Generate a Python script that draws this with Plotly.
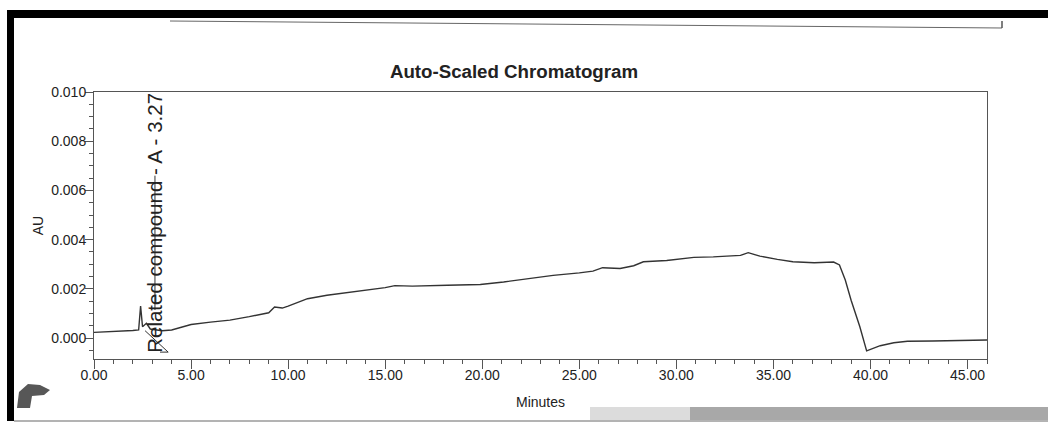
import plotly.graph_objects as go

# Chromatogram trace (retention time in minutes, absorbance in AU)
time_min = [0.0, 1.0, 2.0, 2.3, 2.4, 2.5, 2.6, 2.7, 2.9, 3.5, 4.0, 5.0, 6.0, 7.0, 8.0, 9.0,
            9.3, 9.7, 10.0, 11.0, 12.0, 13.0, 14.0, 15.0, 15.5, 16.4, 18.2, 19.9, 21.1,
            22.45, 23.65, 25.0, 25.7, 26.2, 27.1, 27.8, 28.3, 29.5, 30.9, 31.9, 33.3,
            33.7, 34.3, 35.2, 36.0, 37.1, 38.1, 38.4, 38.7, 39.0, 39.45, 39.8, 40.1,
            40.5, 41.2, 41.9, 43.2, 46.0]
absorbance = [0.00023, 0.00026, 0.00031, 0.00033, 0.00130, 0.00046, 0.00052, 0.00060,
              0.00037, 0.00030, 0.00033, 0.00055, 0.00065, 0.00073, 0.00087, 0.00103,
              0.00126, 0.00122, 0.00130, 0.00160, 0.00174, 0.00184, 0.00192, 0.00205,
              0.00213, 0.00211, 0.00215, 0.00218, 0.00228, 0.00243, 0.00255, 0.00265,
              0.00272, 0.00286, 0.00283, 0.00294, 0.00310, 0.00315, 0.00328, 0.00330,
              0.00336, 0.00347, 0.00333, 0.00320, 0.00310, 0.00306, 0.00309, 0.00297,
              0.00236, 0.00154, 0.00046, -0.00052, -0.00042, -0.00031, -0.00019,
              -0.00013, -0.00012, -0.00008]

# Axis ticks
x_ticks = [0, 5, 10, 15, 20, 25, 30, 35, 40, 45]
y_ticks = [0.000, 0.002, 0.004, 0.006, 0.008, 0.010]

# Peak label
peak_name = "Related compound - A"
peak_rt = 3.27

FONT = "Liberation Sans, Arial, sans-serif"
INK = "#222222"
AXIS = "#555555"
W, H = 1048, 423

fig = go.Figure()
fig.add_trace(go.Scatter(
    x=time_min, y=absorbance, mode="lines",
    line=dict(color="#333333", width=1.4),
    showlegend=False, hoverinfo="x+y",
))

# Peak marker: label stem and baseline drop
fig.add_shape(type="line", xref="x", yref="y", x0=3.14, x1=3.14, y0=0.00114, y1=0.0066,
              line=dict(color="#333333", width=1))
fig.add_shape(type="path", xref="x", yref="y",
              path="M 2.63 0.0003 L 3.82 -0.00057 L 3.4 -0.00057",
              line=dict(color="#333333", width=1))

fig.add_annotation(
    x=peak_rt, y=-0.00066, xref="x", yref="y", xshift=-3,
    text=f"{peak_name} - {peak_rt:.2f}", textangle=-90, showarrow=False,
    xanchor="center", yanchor="bottom",
    font=dict(family=FONT, size=20.5, color=INK),
)

fig.update_layout(
    width=W, height=H,
    margin=dict(l=94, r=61, t=92, b=64),
    paper_bgcolor="white", plot_bgcolor="white",
    font=dict(family=FONT, size=14, color=INK),
    title=dict(text="<b>Auto-Scaled Chromatogram</b>", x=514 / W, xanchor="center",
               y=1 - 71 / H, yanchor="middle", font=dict(family=FONT, size=18.7, color=INK)),
    xaxis=dict(
        range=[0, 46], tickvals=x_ticks, tickformat=".2f",
        showline=True, mirror=True, linecolor=AXIS, linewidth=1,
        ticks="outside", ticklen=9, tickcolor=AXIS, showgrid=False, zeroline=False,
        ticklabelstandoff=-6,
        minor=dict(dtick=1, tick0=0, ticks="outside", ticklen=4, tickcolor=AXIS, showgrid=False),
        title=dict(text="Minutes", standoff=15, font=dict(size=14)),
        tickfont=dict(size=14),
    ),
    yaxis=dict(
        range=[-0.00085, 0.010], tickvals=y_ticks, tickformat=".3f",
        showline=True, mirror=True, linecolor=AXIS, linewidth=1,
        ticks="outside", ticklen=8, tickcolor=AXIS, showgrid=False, zeroline=False,
        ticklabelstandoff=-4,
        minor=dict(dtick=0.0005, tick0=0, ticks="outside", ticklen=4, tickcolor=AXIS, showgrid=False),
        title=dict(text="AU", standoff=4, font=dict(size=14)),
        tickfont=dict(size=14),
    ),
)

# Page frame and scan artefacts, given in page pixels
page_shapes = [
    dict(type="rect", x0=7, x1=1048, y0=10, y1=18, fillcolor="#000000", line_width=0),
    dict(type="rect", x0=7, x1=14, y0=10, y1=421, fillcolor="#000000", line_width=0),
    dict(type="line", x0=14, x1=1048, y0=421, y1=421, line=dict(color="#9a9a9a", width=1.5)),
    dict(type="line", x0=170, x1=1002, y0=21, y1=28, line=dict(color="#666666", width=1)),
    dict(type="line", x0=1002, x1=1002, y0=21, y1=28, line=dict(color="#555555", width=1.5)),
    dict(type="rect", x0=590, x1=690, y0=407, y1=420, fillcolor="#dcdcdc", line_width=0),
    dict(type="rect", x0=690, x1=1048, y0=407, y1=420, fillcolor="#a8a8a8", line_width=0),
    dict(type="path", path="M 17 408 L 19 392 L 28 384 L 40 385 L 50 390 L 44 395 L 32 396 L 30 408 Z",
         fillcolor="#3a3a3a", line_width=0, opacity=0.85),
]

# map page pixels into paper coordinates of the plot domain
x_lo, x_hi = 94, W - 61
y_lo, y_hi = 92, H - 64


def px_x(v):
    return (v - x_lo) / (x_hi - x_lo)


def px_y(v):
    return (y_hi - v) / (y_hi - y_lo)


def map_path(p):
    toks = p.split()
    out, i = [], 0
    while i < len(toks):
        t = toks[i]
        if t in ("M", "L"):
            out.append(f"{t} {px_x(float(toks[i + 1])):.5f} {px_y(float(toks[i + 2])):.5f}")
            i += 3
        else:
            out.append(t)
            i += 1
    return " ".join(out)


for s in page_shapes:
    s = dict(s)
    if s["type"] == "path":
        s["path"] = map_path(s["path"])
    else:
        s["x0"], s["x1"] = px_x(s["x0"]), px_x(s["x1"])
        s["y0"], s["y1"] = px_y(s["y0"]), px_y(s["y1"])
    s["xref"] = "paper"
    s["yref"] = "paper"
    s["layer"] = "above"
    fig.add_shape(**s)

fig.write_html("out.html")
